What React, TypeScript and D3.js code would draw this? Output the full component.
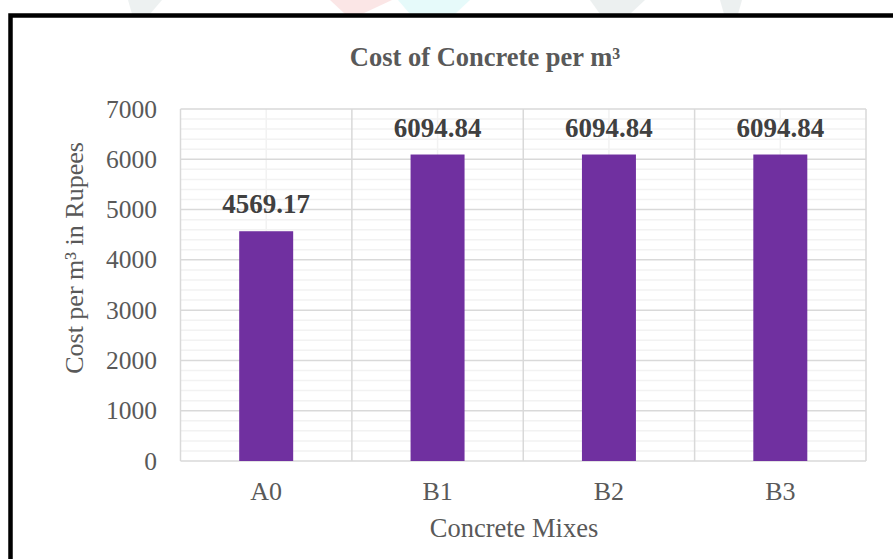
import React from "react";
import * as d3 from "d3";

const categories = ["A0", "B1", "B2", "B3"];
const costValues = [4569.17, 6094.84, 6094.84, 6094.84];
const yTicks = [0, 1000, 2000, 3000, 4000, 5000, 6000, 7000];
const chartTitle = "Cost of Concrete per m³";
const xAxisTitle = "Concrete Mixes";
const yAxisTitle = "Cost per m³ in Rupees";

const W = 893;
const H = 559;
const plot = { left: 180.5, right: 866, top: 109, bottom: 461 };
const serif = "'Liberation Serif', 'Times New Roman', serif";

export default function App() {
  const x = d3.scaleBand<string>().domain(categories).range([plot.left, plot.right]).paddingInner(0).paddingOuter(0);
  const y = d3.scaleLinear().domain([0, 7000]).range([plot.bottom, plot.top]);
  const minorTicks = d3.range(0, 7001, 200).filter((v) => v % 1000 !== 0);
  const barW = x.bandwidth() * 0.315;

  return (
    <div style={{ position: "absolute", left: 0, top: 0 }}>
      <svg width={W} height={H} style={{ display: "block", background: "#fff" }}>
        {/* faint watermark fragments */}
        <g opacity={0.45}>
          <path d="M128,0 L162,0 L150,14 L132,14 Z" fill="#d7dfe0" />
          <path d="M330,0 L392,0 L362,14 L345,14 Z" fill="#f8c9c9" />
          <path d="M398,0 L470,0 L455,14 L410,14 Z" fill="#c9f6f6" />
          <path d="M590,0 L645,0 L630,14 L600,14 Z" fill="#d7dfe0" />
          <path d="M720,0 L742,0 L738,14 L724,14 Z" fill="#d7dfe0" />
        </g>
        <rect x={10.5} y={15.5} width={W + 20} height={H + 20} fill="#fff" stroke="#000" strokeWidth={4.5} />

        {/* minor horizontal gridlines */}
        {minorTicks.map((t) => (
          <line key={"mh" + t} x1={plot.left} x2={plot.right} y1={y(t)} y2={y(t)} stroke="#f2f2f2" strokeWidth={1.5} />
        ))}
        {/* minor vertical gridlines (category centers) */}
        {categories.map((c) => (
          <line key={"mv" + c} x1={(x(c) as number) + x.bandwidth() / 2} x2={(x(c) as number) + x.bandwidth() / 2} y1={plot.top} y2={plot.bottom} stroke="#f2f2f2" strokeWidth={1.5} />
        ))}
        {/* major horizontal gridlines */}
        {yTicks.map((t) => (
          <line key={"h" + t} x1={plot.left} x2={plot.right} y1={y(t)} y2={y(t)} stroke="#d9d9d9" strokeWidth={1.5} />
        ))}
        {/* major vertical gridlines (category boundaries) */}
        {[...categories.map((c) => x(c) as number), plot.right].map((v, i) => (
          <line key={"v" + i} x1={v} x2={v} y1={plot.top} y2={plot.bottom} stroke="#d9d9d9" strokeWidth={1.5} />
        ))}

        {/* bars */}
        {categories.map((c, i) => {
          const cx = (x(c) as number) + x.bandwidth() / 2;
          return (
            <rect key={"b" + c} x={cx - barW / 2} y={y(costValues[i])} width={barW} height={plot.bottom - y(costValues[i])} fill="#7030a0" />
          );
        })}
        {/* data labels */}
        {categories.map((c, i) => {
          const cx = (x(c) as number) + x.bandwidth() / 2;
          return (
            <text key={"l" + c} x={cx} y={y(costValues[i]) - 18} textAnchor="middle" fontFamily={serif} fontWeight="bold" fontSize={27} fill="#404040">
              {costValues[i].toFixed(2)}
            </text>
          );
        })}

        {/* y tick labels */}
        {yTicks.map((t) => (
          <text key={"yt" + t} x={157} y={y(t) + 8.5} textAnchor="end" fontFamily={serif} fontSize={25.5} fill="#595959">
            {t}
          </text>
        ))}
        {/* x tick labels */}
        {categories.map((c) => (
          <text key={"xt" + c} x={(x(c) as number) + x.bandwidth() / 2} y={500} textAnchor="middle" fontFamily={serif} fontSize={26} fill="#595959">
            {c}
          </text>
        ))}

        {/* titles */}
        <text x={485} y={66} textAnchor="middle" fontFamily={serif} fontWeight="bold" fontSize={26.5} fill="#595959">
          {chartTitle}
        </text>
        <text x={514} y={537} textAnchor="middle" fontFamily={serif} fontSize={26.5} fill="#595959">
          {xAxisTitle}
        </text>
        <text transform={`translate(83,258) rotate(-90)`} textAnchor="middle" fontFamily={serif} fontSize={26} fill="#595959">
          {yAxisTitle}
        </text>
      </svg>
    </div>
  );
}
